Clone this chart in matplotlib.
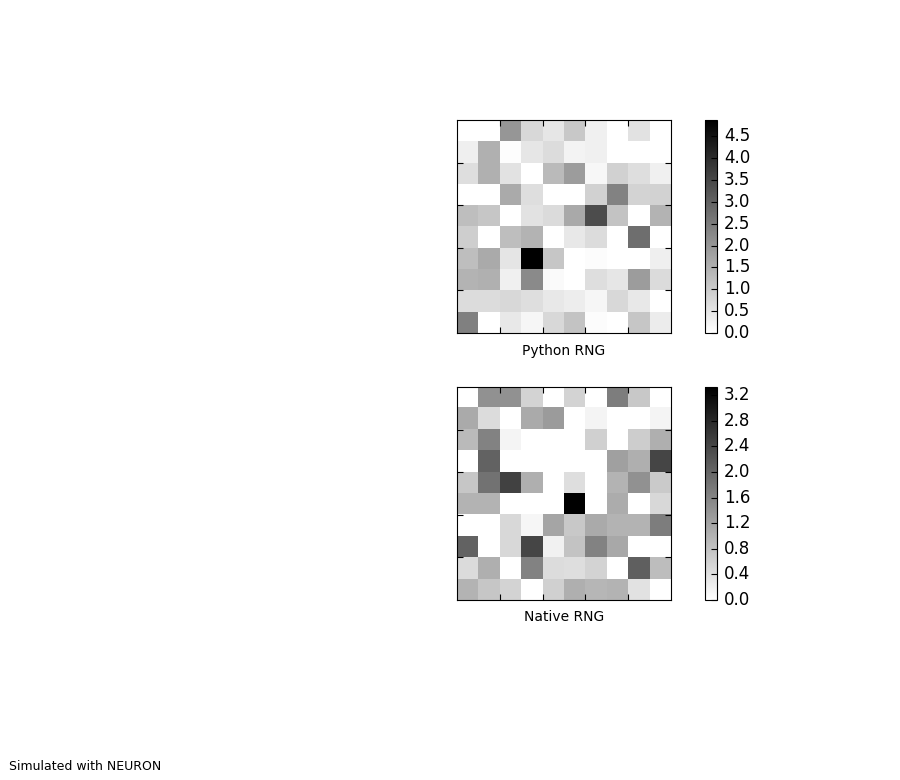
import matplotlib
matplotlib.use('Agg')
import matplotlib.pyplot as plt
import matplotlib.transforms as mtrans
import numpy as np

python_rng = [
    [0, 0, 2.0, 0.76, 0.48, 1.05, 0.29, 0, 0.57, 0],
    [0.32, 1.52, 0.04, 0.48, 0.67, 0.23, 0.29, 0, 0, 0],
    [0.63, 1.52, 0.57, 0, 1.33, 1.90, 0.17, 0.89, 0.63, 0.29],
    [0, 0, 1.62, 0.63, 0, 0, 0.89, 2.38, 0.82, 0.86],
    [1.24, 1.10, 0, 0.57, 0.70, 1.65, 3.42, 1.14, 0, 1.46],
    [0.95, 0, 1.24, 1.46, 0, 0.44, 0.67, 0, 2.76, 0],
    [1.24, 1.62, 0.51, 4.87, 1.10, 0, 0.06, 0, 0, 0.32],
    [1.43, 1.52, 0.29, 2.23, 0.10, 0, 0.63, 0.48, 1.90, 0.70],
    [0.67, 0.67, 0.76, 0.63, 0.44, 0.36, 0.19, 0.76, 0.44, 0],
    [2.42, 0, 0.44, 0.19, 0.76, 1.14, 0.06, 0, 1.10, 0.38],
]
native_rng = [
    [0, 1.44, 1.44, 0.58, 0, 0.58, 0, 1.70, 0.72, 0],
    [1.11, 0.46, 0, 1.11, 1.31, 0, 0.15, 0, 0, 0.15],
    [0.91, 1.63, 0.15, 0, 0, 0, 0.62, 0, 0.66, 1.05],
    [0, 2.03, 0, 0, 0, 0, 0, 1.24, 1.05, 2.42],
    [0.75, 1.83, 2.48, 1.05, 0, 0.43, 0, 1.00, 1.44, 0.70],
    [1.00, 1.00, 0, 0, 0, 3.33, 0, 1.09, 0, 0.52],
    [0, 0, 0.52, 0.13, 1.18, 0.72, 1.11, 1.00, 1.00, 1.70],
    [2.03, 0, 0.52, 2.42, 0.19, 0.79, 1.63, 1.14, 0, 0],
    [0.48, 1.05, 0, 1.63, 0.46, 0.43, 0.58, 0, 2.09, 0.87],
    [1.00, 0.75, 0.56, 0, 0.62, 1.05, 0.95, 1.00, 0.39, 0],
]
python_ticks = [0.0, 0.5, 1.0, 1.5, 2.0, 2.5, 3.0, 3.5, 4.0, 4.5]
native_ticks = [0.0, 0.4, 0.8, 1.2, 1.6, 2.0, 2.4, 2.8, 3.2]

W, H = 900.0, 780.0

def panel(fig, data, ticks, label, top, pad):
    ax = fig.add_axes([457/W, 1 - (top + 213)/H, 214/W, 213/H])
    im = ax.imshow(np.array(data), cmap='binary', interpolation='nearest',
                   extent=[0, 10, 10, 0], aspect='auto')
    ax.set_xticks([2, 4, 6, 8])
    ax.set_yticks([2, 4, 6, 8])
    ax.tick_params(direction='in', length=4, width=0.8, top=True, right=True,
                   labelbottom=False, labelleft=False)
    ax.set_xlabel(label, fontsize=10, labelpad=pad)
    cax = fig.add_axes([705/W, 1 - (top + 213)/H, 12/W, 213/H])
    cb = fig.colorbar(im, cax=cax, ticks=ticks)
    cb.ax.tick_params(direction='in', length=4, width=0.8, labelsize=12, pad=5)
    cb.ax.set_yticklabels(['%.1f' % t for t in ticks])
    # labels sit a little above their ticks in the original
    up = mtrans.ScaledTranslation(0, 2/72.0 * 0.72, fig.dpi_scale_trans)
    for t in cb.ax.get_yticklabels():
        t.set_transform(t.get_transform() + up)

fig = plt.figure(figsize=(9, 7.8), dpi=100)
panel(fig, python_rng, python_ticks, 'Python RNG', 120, 8)
panel(fig, native_rng, native_ticks, 'Native RNG', 387, 7.3)
fig.text(9/W, 1 - 766/H, 'Simulated with NEURON', fontsize=9, va='center', ha='left')
fig.savefig('out.png', dpi=100)
